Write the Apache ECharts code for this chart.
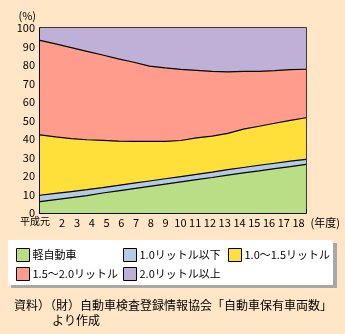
<!DOCTYPE html>
<html>
<head>
<meta charset="utf-8">
<script src="https://cdn.jsdelivr.net/npm/echarts@6/dist/echarts.min.js"></script>
<style>
  html, body { margin: 0; padding: 0; background: #FEE6C6; }
  #chart { width: 345px; height: 334px; }
</style>
</head>
<body>
<div id="chart"></div>
<script>
// 年度（平成元〜18年度）
const years = ['平成元', '2', '3', '4', '5', '6', '7', '8', '9', '10', '11', '12', '13', '14', '15', '16', '17', '18'];

// 排気量区分別の保有台数構成比（%）
const kei      = [6.1, 7.2, 8.3, 9.4, 10.8, 12.0, 13.2, 14.4, 15.6, 16.8, 18.0, 19.2, 20.5, 21.7, 22.8, 24.0, 25.1, 26.3];
const under10  = [3.5, 3.4, 3.3, 3.2, 2.9, 2.9, 2.9, 2.9, 2.9, 2.9, 2.9, 2.9, 2.9, 2.9, 3.0, 2.9, 2.9, 2.7];
const r10to15  = [32.6, 30.5, 28.6, 27.0, 25.6, 23.9, 22.6, 21.4, 20.2, 19.5, 19.7, 19.5, 19.6, 20.7, 21.1, 21.6, 22.1, 22.5];
const r15to20  = [51.1, 50.3, 49.2, 47.8, 46.1, 44.5, 42.8, 40.7, 39.7, 38.4, 36.5, 35.0, 33.3, 31.3, 29.7, 28.5, 27.4, 26.2];
const over20   = [6.7, 8.6, 10.6, 12.6, 14.6, 16.7, 18.5, 20.6, 21.6, 22.4, 22.9, 23.4, 23.7, 23.4, 23.4, 23.0, 22.5, 22.3];

const seriesNames = ['軽自動車', '1.0リットル以下', '1.0～1.5リットル', '1.5～2.0リットル', '2.0リットル以上'];
const seriesData = [kei, under10, r10to15, r15to20, over20];
const fills = ['#B9DE86', '#B3CCE4', '#FFDF3A', '#FF9C8C', '#BEB0D6'];

const yTicks = [0, 10, 20, 30, 40, 50, 60, 70, 80, 90, 100];

const sourceLine1 = '資料）（財）自動車検査登録情報協会「自動車保有車両数」';
const sourceLine2 = 'より作成';

const font = '"Noto Sans CJK JP", "Noto Sans", sans-serif';

const chart = echarts.init(document.getElementById('chart'), null, { renderer: 'canvas' });

// legend placement: two rows inside a white box
const legendSpots = [
  { left: 16, top: 248 },
  { left: 123, top: 248 },
  { left: 228, top: 248 },
  { left: 16, top: 267 },
  { left: 123, top: 267 }
];

const legends = seriesNames.map((name, i) => ({
  data: [name],
  left: legendSpots[i].left,
  top: legendSpots[i].top,
  padding: 0,
  icon: 'rect',
  itemWidth: 13,
  itemHeight: 13,
  itemGap: 0,
  selectedMode: false,
  itemStyle: { color: fills[i], borderColor: '#000', borderWidth: 1 },
  textStyle: { fontFamily: font, fontSize: 11, color: '#000', padding: [0, 0, 0, -2] }
}));

chart.setOption({
  backgroundColor: '#FEE6C6',
  animation: false,
  textStyle: { fontFamily: font },
  grid: {
    left: 40, right: 39, top: 28, bottom: 121,
    show: true, borderColor: '#000', borderWidth: 1.5, backgroundColor: 'transparent'
  },
  graphic: [
    { type: 'rect', shape: { x: 11, y: 243, width: 326, height: 45 }, style: { fill: '#A8A8A8' }, silent: true, z: -1 },
    { type: 'rect', shape: { x: 8, y: 240, width: 325, height: 45 }, style: { fill: '#FFFFFF' }, silent: true, z: -1 },
    // first year label, set off to the left of the first category
    { type: 'text', left: 20, top: 216, style: { text: years[0], fontSize: 10, fontFamily: font, fill: '#000' } },
    { type: 'text', left: 14, top: 299, style: { text: sourceLine1, fontSize: 12, fontFamily: font, fill: '#000' } },
    { type: 'text', left: 52, top: 314, style: { text: sourceLine2, fontSize: 12, fontFamily: font, fill: '#000' } }
  ],
  legend: legends,
  xAxis: [
    {
      type: 'category',
      data: years,
      boundaryGap: true,
      position: 'bottom',
      name: '(年度)',
      nameLocation: 'end',
      nameGap: 0,
      nameTextStyle: { fontFamily: font, fontSize: 11, color: '#000', verticalAlign: 'top', padding: [4, 0, 0, 0] },
      axisLine: { show: true, lineStyle: { color: '#000', width: 1.5 } },
      axisTick: { show: true, inside: true, length: 4, lineStyle: { color: '#000', width: 1 }, alignWithLabel: false },
      axisLabel: {
        color: '#000', fontSize: 11, margin: 4, interval: 0,
        formatter: (v, i) => i === 0 ? '' : v
      },
      splitLine: { show: false }
    },
    {
      type: 'category',
      data: years,
      boundaryGap: false,
      show: false,
      position: 'bottom'
    }
  ],
  yAxis: {
    type: 'value',
    min: 0, max: 100, interval: 10,
    name: '(%)',
    nameLocation: 'end',
    nameGap: 7,
    nameTextStyle: { fontFamily: font, fontSize: 11, color: '#000', align: 'right', padding: [0, 4, 0, 0] },
    axisLine: { show: true, lineStyle: { color: '#000', width: 1.5 } },
    axisTick: { show: true, inside: true, length: 4, lineStyle: { color: '#000', width: 1 } },
    axisLabel: { color: '#000', fontSize: 11, margin: 5, formatter: v => yTicks.includes(v) ? String(v) : '' },
    splitLine: { show: false }
  },
  series: seriesNames.map((name, i) => ({
    name,
    type: 'line',
    xAxisIndex: 1,
    stack: 'share',
    data: seriesData[i],
    symbol: 'none',
    color: fills[i],
    lineStyle: { color: '#000', width: i === 4 ? 0 : 1.2 },
    areaStyle: { color: fills[i], opacity: 1 },
    z: 2
  }))
});
</script>
</body>
</html>
